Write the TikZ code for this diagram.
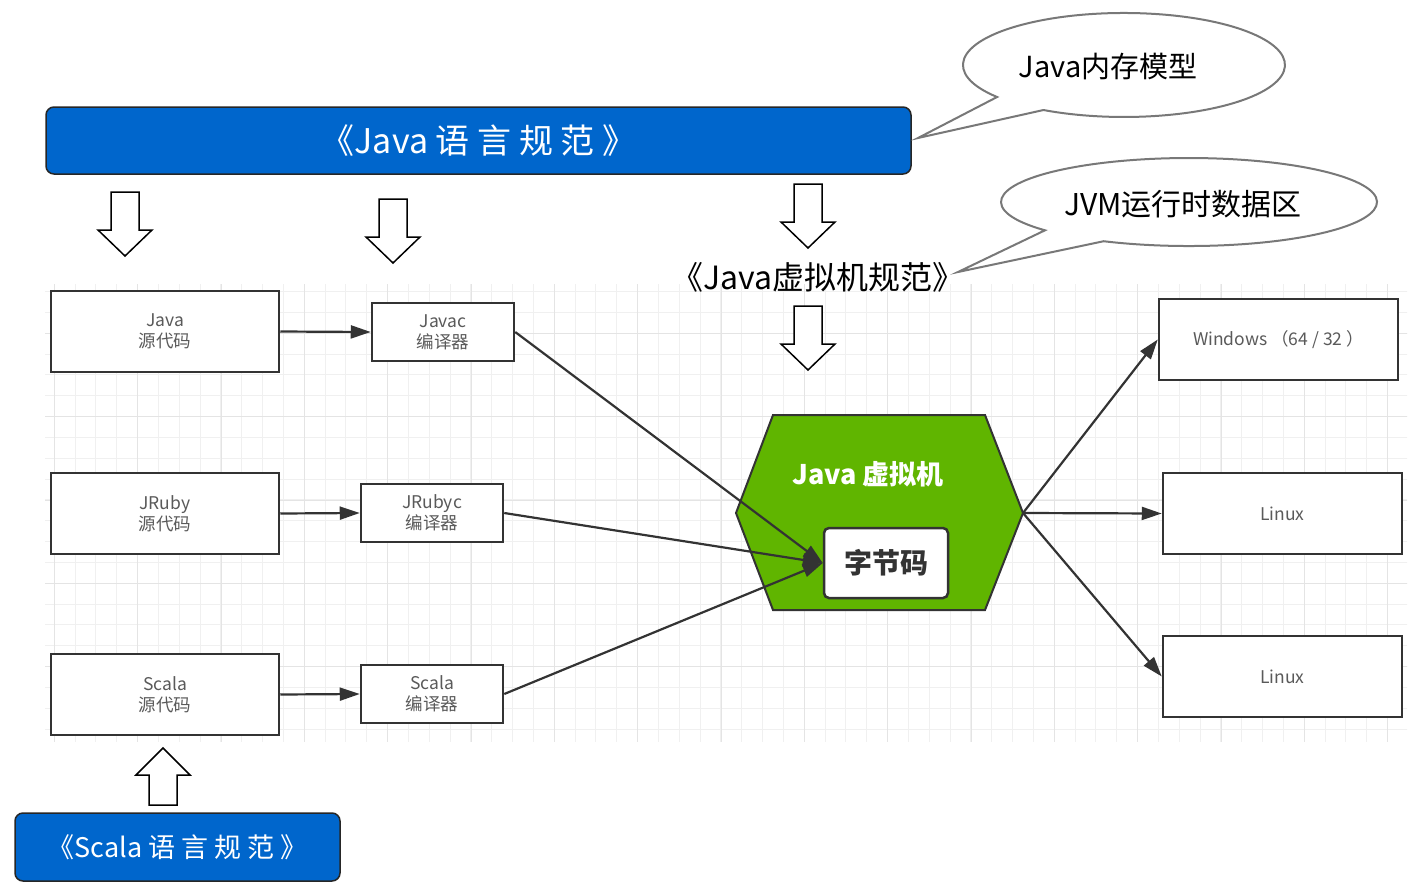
\documentclass[tikz,border=0pt]{standalone}
\usepackage{fontspec}
\setmainfont{Noto Sans CJK SC}
\usetikzlibrary{arrows.meta}
\definecolor{specblue}{RGB}{0,102,204}
\definecolor{jvmgreen}{RGB}{96,181,0}
\definecolor{edgegrey}{RGB}{51,51,51}
\definecolor{txtgrey}{RGB}{90,90,90}
\definecolor{gridminor}{RGB}{240,240,240}
\definecolor{gridmajor}{RGB}{228,228,228}
\definecolor{bubblegrey}{RGB}{120,120,120}
\tikzset{
  box/.style={draw=edgegrey, line width=2.5pt, fill=white, inner sep=0pt, text=txtgrey,
    font=\fontsize{17.5}{21}\selectfont, align=center},
  spec/.style={draw=black!85, line width=1.5pt, fill=specblue, rounded corners=8pt,
    text=white, inner sep=0pt},
  conn/.style={draw=edgegrey, line width=2.2pt, -{Triangle[length=20pt,width=13pt]}},
  hollow/.style={draw=black, line width=1.5pt, fill=white},
  bubblestyle/.style={draw=bubblegrey, line width=2pt, fill=white},
  downarrow/.pic={\draw[hollow] (-14,0) -- (14,0) -- (14,38) -- (27,38) -- (0,64) -- (-27,38) -- (-14,38) -- cycle;},
  uparrow/.pic={\draw[hollow] (-14,0) -- (14,0) -- (14,-30) -- (27,-30) -- (0,-57) -- (-27,-30) -- (-14,-30) -- cycle;},
}
\begin{document}
\begin{tikzpicture}[x=1pt,y=-1pt]
\useasboundingbox (0,0) rectangle (1419,889);
% grid
\begin{scope}
  \clip (45,284) rectangle (1407,741);
  \foreach \gx in {12.6,33.433,...,1420} {\draw[gridminor, line width=1pt] (\gx,280) -- (\gx,745);}
  \foreach \gy in {0,20.833,...,750} {\draw[gridminor, line width=1pt] (40,\gy) -- (1410,\gy);}
  \foreach \gx in {54.5,137.83,...,1420} {\draw[gridmajor, line width=1pt] (\gx,280) -- (\gx,745);}
  \foreach \gy in {0,83.333,...,750} {\draw[gridmajor, line width=1pt] (40,\gy) -- (1410,\gy);}
\end{scope}

% specifications
\node[spec, minimum width=865pt, minimum height=67pt, font=\fontsize{34}{38}\selectfont] (javaspec) at (478.5,140.5) {《Java 语 言 规 范 》};
\node[spec, minimum width=325pt, minimum height=68pt, font=\fontsize{27}{31}\selectfont] (scalaspec) at (177.5,847) {《Scala 语 言 规 范 》};

% hollow arrows
\pic at (125,192) {downarrow};
\pic at (393,199) {downarrow};
\pic at (808,184) {downarrow};
\pic at (808,306) {downarrow};
\pic at (163,805) {uparrow};

\node[font=\fontsize{32}{36}\selectfont] (jvmspec) at (818,277) {《Java虚拟机规范》};

% speech bubbles
\draw[bubblestyle] (918,138) -- (997.1,97.0) arc[start angle=142, end angle=480, x radius=161, y radius=52] -- cycle;
\node[font=\fontsize{29}{34}\selectfont] (jmm) at (1108,67) {Java内存模型};
\draw[bubblestyle] (958,272) -- (1045,230.3) arc[start angle=140, end angle=477, x radius=188, y radius=44] -- cycle;
\node[font=\fontsize{30}{34}\selectfont] (rtda) at (1183,204) {JVM运行时数据区};

% source and compiler boxes
\node[box, minimum width=228pt, minimum height=81pt] (javasrc) at (165,331.5) {Java\\源代码};
\node[box, minimum width=228pt, minimum height=81pt] (rubysrc) at (165,513.5) {JRuby\\源代码};
\node[box, minimum width=228pt, minimum height=81pt] (scalasrc) at (165,694.5) {Scala\\源代码};
\node[box, minimum width=142pt, minimum height=58pt] (javac) at (443,332) {Javac\\编译器};
\node[box, minimum width=142pt, minimum height=58pt] (rubyc) at (432,513) {JRubyc\\编译器};
\node[box, minimum width=142pt, minimum height=58pt] (scalac) at (432,694) {Scala\\编译器};

% OS boxes
\node[box, minimum width=239pt, minimum height=81pt] (win) at (1278.5,339.5) {Windows （64 / 32 ）};
\node[box, minimum width=239pt, minimum height=81pt] (linA) at (1282.5,513.5) {Linux};
\node[box, minimum width=239pt, minimum height=81pt] (linB) at (1282.5,676.5) {Linux};

% JVM hexagon
\coordinate (jvmL) at (736,513);
\coordinate (jvmR) at (1023,513);
\draw[draw=edgegrey, line width=2pt, fill=jvmgreen] (773,415) -- (985,415) -- (jvmR) -- (985,610) -- (773,610) -- (jvmL) -- cycle;
\node[text=white, font=\fontsize{27}{30}\selectfont\bfseries] (jvmtitle) at (868,474) {Java 虚拟机};
\node[draw=edgegrey, line width=2.5pt, fill=white, rounded corners=5pt, minimum width=124pt, minimum height=70pt,
  inner sep=0pt, font=\fontsize{28}{32}\selectfont\bfseries, text=edgegrey] (bc) at (886,563) {字节码};

% connectors
\draw[conn] (javasrc.east) -- (javac.west);
\draw[conn] (rubysrc.east) -- (rubyc.west);
\draw[conn] (scalasrc.east) -- (scalac.west);
\draw[conn] (javac.east) -- (bc.west);
\draw[conn] (rubyc.east) -- (bc.west);
\draw[conn] (scalac.east) -- (bc.west);
\draw[conn] (jvmR) -- (win.west);
\draw[conn] (jvmR) -- (linA.west);
\draw[conn] (jvmR) -- (linB.west);
\end{tikzpicture}
\end{document}
